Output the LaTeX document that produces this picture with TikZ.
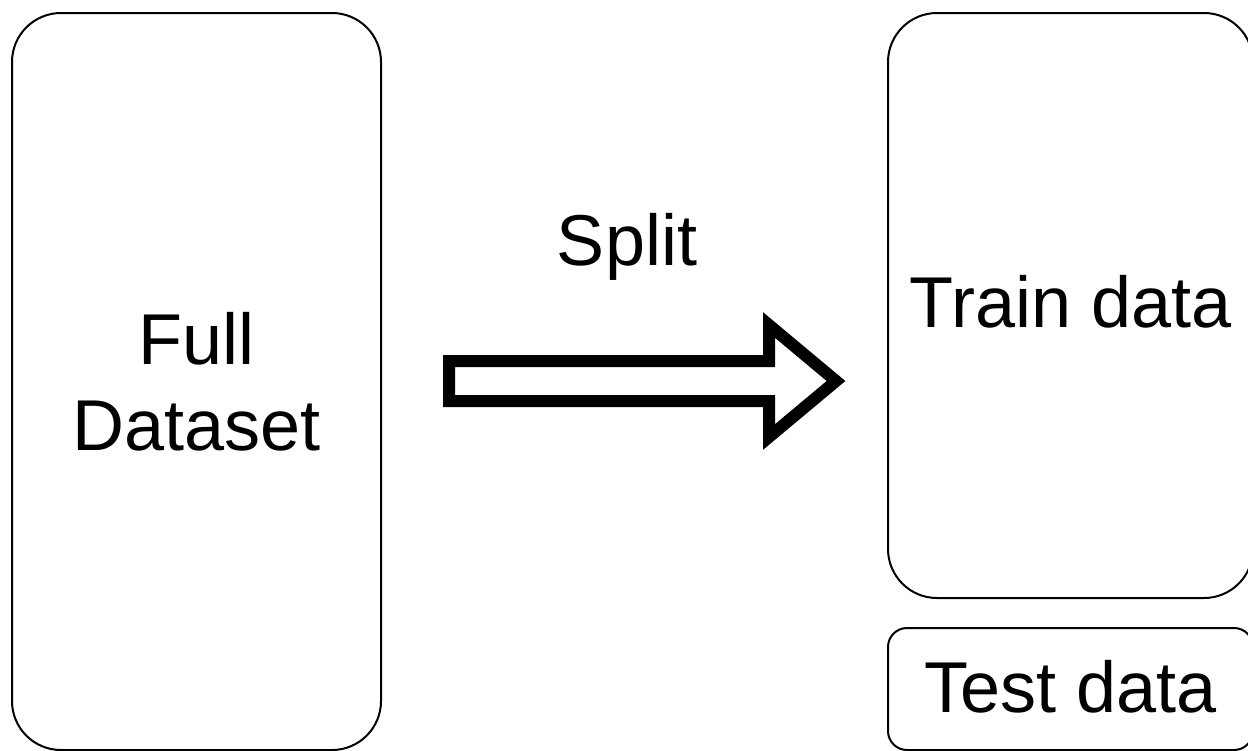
\documentclass[tikz,border=0pt]{standalone}
\usepackage{fontspec}
\setmainfont{Liberation Sans}
\begin{document}
\begin{tikzpicture}[x=0.75pt, y=-0.75pt,
  box/.style={draw=black, line width=1.5pt, fill=white, inner sep=0pt, outer sep=0pt,
              align=center, font=\fontsize{54pt}{64.8pt}\selectfont},
  bigbox/.style={box, rounded corners=36.75pt},
  smallbox/.style={box, rounded corners=14.25pt},
  lbl/.style={inner sep=0pt, font=\fontsize{54pt}{64.8pt}\selectfont},
  blockarrow/.style={draw=black, line width=9pt, line join=miter, fill=white}]
  \useasboundingbox (0,0) rectangle (1248,750);
  \clip (0,0) rectangle (1248,750);
  \fill[white] (0,0) rectangle (1248,750);

  % source set
  \node[bigbox, minimum width=276.75pt, minimum height=552.75pt] (full) at (196.5,381.5) {Full\\Dataset};

  % the two parts after splitting
  \node[bigbox, minimum width=273.75pt, minimum height=438.75pt,
        label={[lbl, yshift=3pt]center:Train data}] (train) at (1070.5,305.5) {};
  \node[smallbox, minimum width=273.75pt, minimum height=91.5pt,
        label={[lbl, yshift=1.9pt]center:Test data}] (test) at (1070.5,689) {};

  % hollow block arrow
  \coordinate (tail) at (449,381);
  \coordinate (tip) at (836,381);
  \draw[blockarrow] (tail |- 0,361) -- (769,361) -- (769,325) -- (tip)
        -- (769,437) -- (769,401) -- (tail |- 0,401) -- cycle;
  \node[lbl, anchor=base] (split) at (627,265) {Split};
\end{tikzpicture}
\end{document}
